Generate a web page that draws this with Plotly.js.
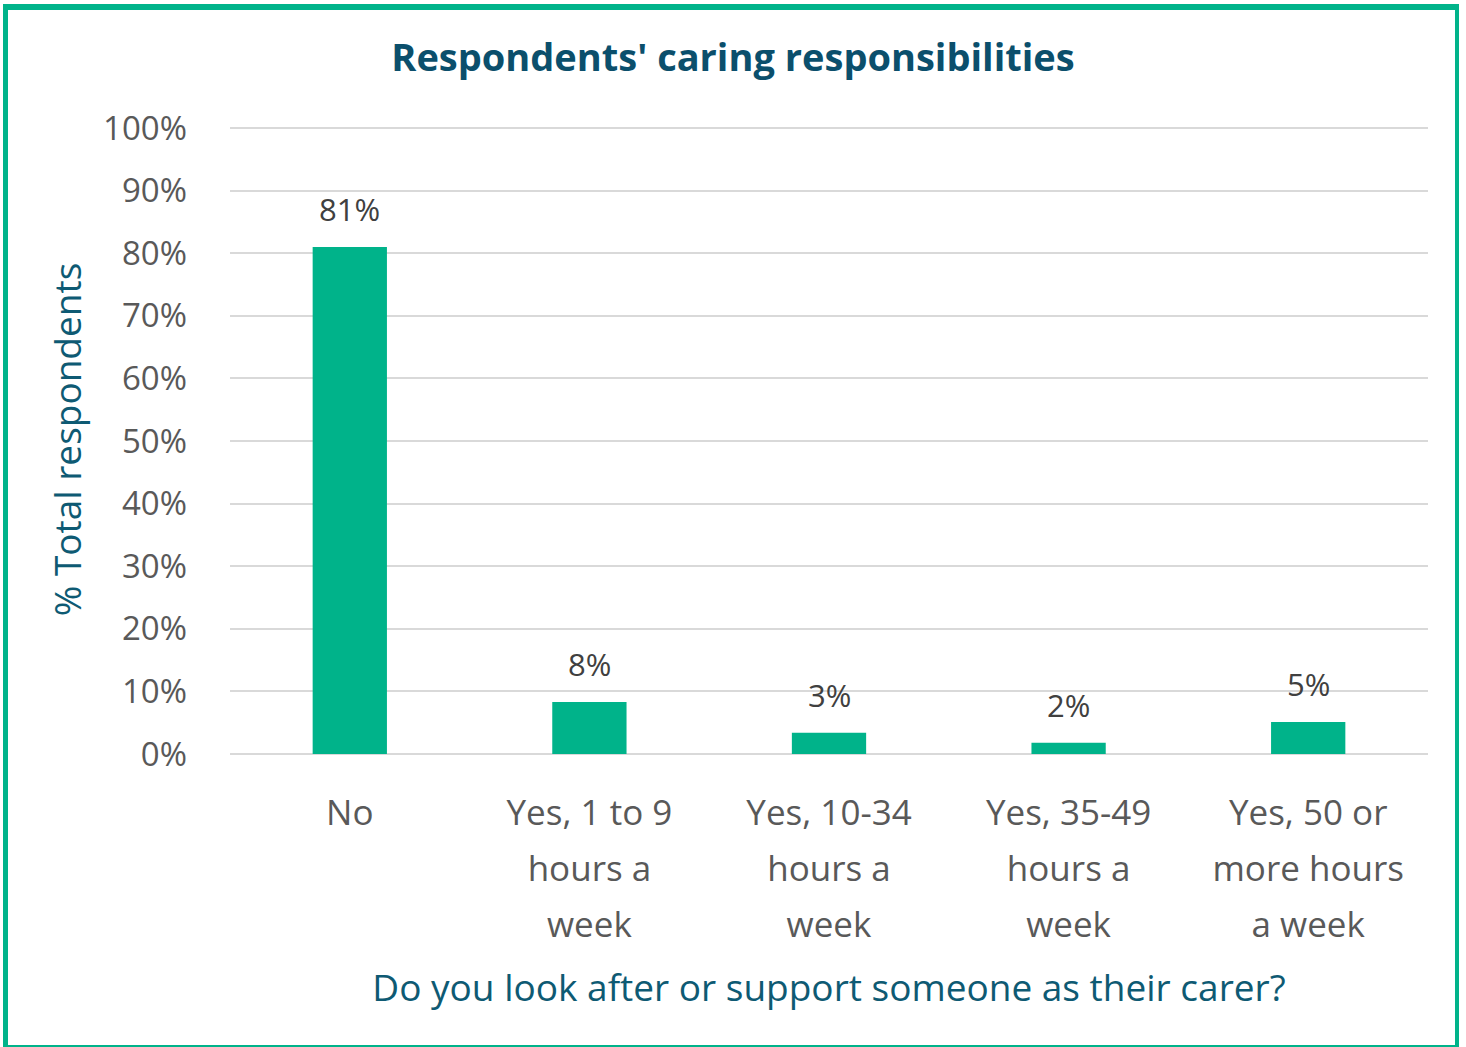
<!DOCTYPE html>
<html>
<head>
<meta charset="utf-8">
<script src="https://cdn.plot.ly/plotly-3.0.1.min.js"></script>
<style>
html,body{margin:0;padding:0;background:#fff;}
#wrap{position:relative;width:1466px;height:1047px;overflow:hidden;}
#chart{position:absolute;left:0;top:0;width:1466px;height:1047px;}
#frame{position:absolute;left:3px;top:4px;width:1447px;height:1035px;border-style:solid;border-color:#00B38A;border-width:6px 4px 2px 5px;pointer-events:none;}
</style>
</head>
<body>
<div id="wrap"><div id="chart"></div><div id="frame"></div></div>
<script>
const categories = ["No", "Yes, 1 to 9<br>hours a<br>week", "Yes, 10-34<br>hours a<br>week", "Yes, 35-49<br>hours a<br>week", "Yes, 50 or<br>more hours<br>a week"];
const values = [81.0, 8.3, 3.4, 1.8, 5.1];
const valueLabels = ["81%", "8%", "3%", "2%", "5%"];
const yTickVals = [0,10,20,30,40,50,60,70,80,90,100];
const yTickText = ["0%","10%","20%","30%","40%","50%","60%","70%","80%","90%","100%"];

const FONT = "'Open Sans', Lato, sans-serif";

// tick text: inner spans at readable size, outer font larger to widen line spacing
const tickText = categories.map(c => c.split('<br>').map(l => '<span style="font-size:35px">' + l + '</span>').join('<br>'));

const trace = {
  type: 'bar',
  x: categories,
  y: values,
  marker: {color: '#00B38A'},
  hoverinfo: 'none'
};

const labelAnnotations = categories.map((c, i) => ({
  x: c, y: values[i], xref: 'x', yref: 'y',
  text: valueLabels[i], showarrow: false,
  yanchor: 'bottom', yshift: 15,
  font: {family: FONT, size: 31, color: '#404040'}
}));

const layout = {
  width: 1466, height: 1047,
  paper_bgcolor: '#ffffff', plot_bgcolor: '#ffffff',
  margin: {l: 230, r: 38, t: 125, b: 293},
  bargap: 0.69,
  showlegend: false,
  annotations: labelAnnotations,
  title: {text: "<b>Respondents' caring responsibilities</b>", x: 0.5, xref: 'container', y: 0.945, yref: 'container', yanchor: 'middle',
          font: {family: FONT, size: 38, color: '#0B4F6C'}},
  xaxis: {
    type: 'category',
    tickmode: 'array', tickvals: categories, ticktext: tickText,
    tickfont: {family: FONT, size: 43, color: '#595959'},
    ticks: '', showline: false, showgrid: false, zeroline: false,
    ticklabelstandoff: 27,
    automargin: false,
    title: {text: "Do you look after or support someone as their carer?", standoff: 29,
            font: {family: FONT, size: 37, color: '#0E5A73'}}
  },
  yaxis: {
    range: [0, 100.5],
    tickvals: yTickVals, ticktext: yTickText,
    tickfont: {family: FONT, size: 33, color: '#595959'},
    showgrid: true, gridcolor: '#D9D9D9', gridwidth: 2,
    zeroline: true, zerolinecolor: '#D9D9D9', zerolinewidth: 2,
    showline: false, ticks: '',
    ticklabelstandoff: 42,
    automargin: false,
    title: {text: "% Total respondents", standoff: 10,
            font: {family: FONT, size: 37, color: '#0E5A73'}}
  }
};

Plotly.newPlot('chart', [trace], layout, {displayModeBar: false, staticPlot: true});
</script>
</body>
</html>
